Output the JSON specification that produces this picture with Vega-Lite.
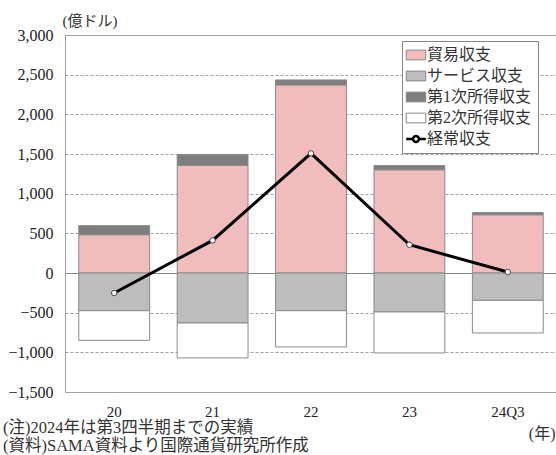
{
  "$schema": "https://vega.github.io/schema/vega-lite/v6.json",
  "width": 492,
  "height": 357,
  "autosize": "none",
  "padding": {"left": 65, "top": 35, "right": 0, "bottom": 63},
  "background": "white",
  "config": {
    "view": {"stroke": "#a0a0a0", "strokeWidth": 1},
    "font": "Liberation Serif, Noto Sans CJK JP"
  },
  "title": {
    "text": ["(注)2024年は第3四半期までの実績", "(資料)SAMA資料より国際通貨研究所作成"],
    "orient": "bottom",
    "anchor": "start",
    "frame": "group",
    "dx": -62,
    "offset": -21,
    "font": "Liberation Serif, Noto Sans CJK JP",
    "fontSize": 16.5,
    "fontWeight": "normal",
    "color": "#333333",
    "lineHeight": 18
  },
  "datasets": {
    "bars": [
      {"year": "20", "category": "貿易収支", "value": 482, "order": 1},
      {"year": "20", "category": "サービス収支", "value": -475, "order": 2},
      {"year": "20", "category": "第1次所得収支", "value": 115, "order": 3},
      {"year": "20", "category": "第2次所得収支", "value": -374, "order": 4},
      {"year": "21", "category": "貿易収支", "value": 1355, "order": 1},
      {"year": "21", "category": "サービス収支", "value": -630, "order": 2},
      {"year": "21", "category": "第1次所得収支", "value": 140, "order": 3},
      {"year": "21", "category": "第2次所得収支", "value": -440, "order": 4},
      {"year": "22", "category": "貿易収支", "value": 2371, "order": 1},
      {"year": "22", "category": "サービス収支", "value": -475, "order": 2},
      {"year": "22", "category": "第1次所得収支", "value": 63, "order": 3},
      {"year": "22", "category": "第2次所得収支", "value": -457, "order": 4},
      {"year": "23", "category": "貿易収支", "value": 1301, "order": 1},
      {"year": "23", "category": "サービス収支", "value": -491, "order": 2},
      {"year": "23", "category": "第1次所得収支", "value": 54, "order": 3},
      {"year": "23", "category": "第2次所得収支", "value": -517, "order": 4},
      {"year": "24Q3", "category": "貿易収支", "value": 734, "order": 1},
      {"year": "24Q3", "category": "サービス収支", "value": -345, "order": 2},
      {"year": "24Q3", "category": "第1次所得収支", "value": 29, "order": 3},
      {"year": "24Q3", "category": "第2次所得収支", "value": -411, "order": 4}
    ],
    "ca": [
      {"year": "20", "ca": -252},
      {"year": "21", "ca": 411},
      {"year": "22", "ca": 1508},
      {"year": "23", "ca": 356},
      {"year": "24Q3", "ca": 12}
    ]
  },
  "layer": [
    {
      "data": {"name": "bars"},
      "mark": {"type": "bar", "stroke": "#8a8a8a", "strokeWidth": 1},
      "encoding": {
        "x": {
          "field": "year",
          "type": "ordinal",
          "sort": ["20", "21", "22", "23", "24Q3"],
          "scale": {"paddingInner": 0.28, "paddingOuter": 0.14},
          "axis": {
            "title": "(年)",
            "titleX": 490,
            "titleY": 41,
            "titleAlign": "right",
            "titleBaseline": "middle",
            "titleAnchor": null,
            "titleFont": "Liberation Serif, Noto Sans CJK JP",
            "titleFontSize": 16,
            "titleFontWeight": "normal",
            "titleColor": "#333333",
            "labelAngle": 0,
            "labelFont": "Liberation Serif",
            "labelFontSize": 15,
            "labelColor": "#222222",
            "labelPadding": 12,
            "ticks": false,
            "domain": false
          }
        },
        "y": {
          "field": "value",
          "type": "quantitative",
          "stack": "zero",
          "scale": {"domain": [-1500, 3000], "nice": false, "zero": false},
          "axis": {
            "title": "(億ドル)",
            "titleAngle": 0,
            "titleX": -3,
            "titleY": -15,
            "titleAlign": "left",
            "titleBaseline": "middle",
            "titleFont": "Liberation Serif, Noto Sans CJK JP",
            "titleFontSize": 15,
            "titleFontWeight": "normal",
            "titleColor": "#333333",
            "values": [-1500, -1000, -500, 0, 500, 1000, 1500, 2000, 2500, 3000],
            "format": ",d",
            "labelOverlap": false,
            "labelFont": "Liberation Serif",
            "labelFontSize": 16,
            "labelColor": "#222222",
            "labelPadding": 12,
            "ticks": false,
            "domain": false,
            "grid": true,
            "gridColor": {"condition": {"test": "datum.value === 0", "value": "#888888"}, "value": "#a0a0a0"},
            "gridDash": {"condition": {"test": "datum.value === 0", "value": []}, "value": [3, 2]},
            "gridWidth": 1
          }
        },
        "color": {
          "field": "category",
          "type": "nominal",
          "scale": {
            "domain": ["貿易収支", "サービス収支", "第1次所得収支", "第2次所得収支", "経常収支"],
            "range": ["#f1bcbc", "#bdbdbd", "#7e7e7e", "#ffffff", "#ffffff"]
          },
          "legend": {
            "orient": "none",
            "legendX": 337,
            "legendY": 6,
            "title": null,
            "fillColor": "white",
            "strokeColor": "#888888",
            "padding": 6,
            "labelFont": "Liberation Serif, Noto Sans CJK JP",
            "labelFontSize": 16,
            "labelColor": "#333333",
            "labelOffset": 3,
            "rowPadding": 5,
            "symbolType": "M-1,-0.5H1V0.5H-1Z",
            "symbolSize": 380,
            "symbolStrokeColor": "#888888",
            "symbolStrokeWidth": 1,
            "symbolOpacity": 1,
            "encode": {
              "symbols": {
                "update": {
                  "shape": {"signal": "datum.value === '経常収支' ? 'M-1,0H-0.3M0.3,0H1M-0.3,0A0.3,0.3 0 1,0 0.3,0A0.3,0.3 0 1,0 -0.3,0' : 'M-1,-0.5H1V0.5H-1Z'"},
                  "stroke": {"signal": "datum.value === '経常収支' ? '#000000' : '#888888'"},
                  "strokeWidth": {"signal": "datum.value === '経常収支' ? 2.5 : 1"}
                }
              }
            }
          }
        },
        "order": {"field": "order", "type": "quantitative"}
      }
    },
    {
      "data": {"name": "ca"},
      "mark": {
        "type": "line",
        "color": "#000000",
        "strokeWidth": 3,
        "interpolate": "linear",
        "point": {"filled": true, "fill": "#ffffff", "stroke": "#444444", "strokeWidth": 1, "size": 30}
      },
      "encoding": {
        "x": {"field": "year", "type": "ordinal", "sort": ["20", "21", "22", "23", "24Q3"]},
        "y": {
          "field": "ca",
          "type": "quantitative",
          "axis": {
            "title": "(億ドル)",
            "titleAngle": 0,
            "titleX": -3,
            "titleY": -15,
            "titleAlign": "left",
            "titleBaseline": "middle",
            "titleFont": "Liberation Serif, Noto Sans CJK JP",
            "titleFontSize": 15,
            "titleFontWeight": "normal",
            "titleColor": "#333333",
            "values": [-1500, -1000, -500, 0, 500, 1000, 1500, 2000, 2500, 3000],
            "format": ",d",
            "labelOverlap": false,
            "labelFont": "Liberation Serif",
            "labelFontSize": 16,
            "labelColor": "#222222",
            "labelPadding": 12,
            "ticks": false,
            "domain": false,
            "grid": true,
            "gridColor": {"condition": {"test": "datum.value === 0", "value": "#888888"}, "value": "#a0a0a0"},
            "gridDash": {"condition": {"test": "datum.value === 0", "value": []}, "value": [3, 2]},
            "gridWidth": 1
          }
        }
      }
    }
  ]
}
